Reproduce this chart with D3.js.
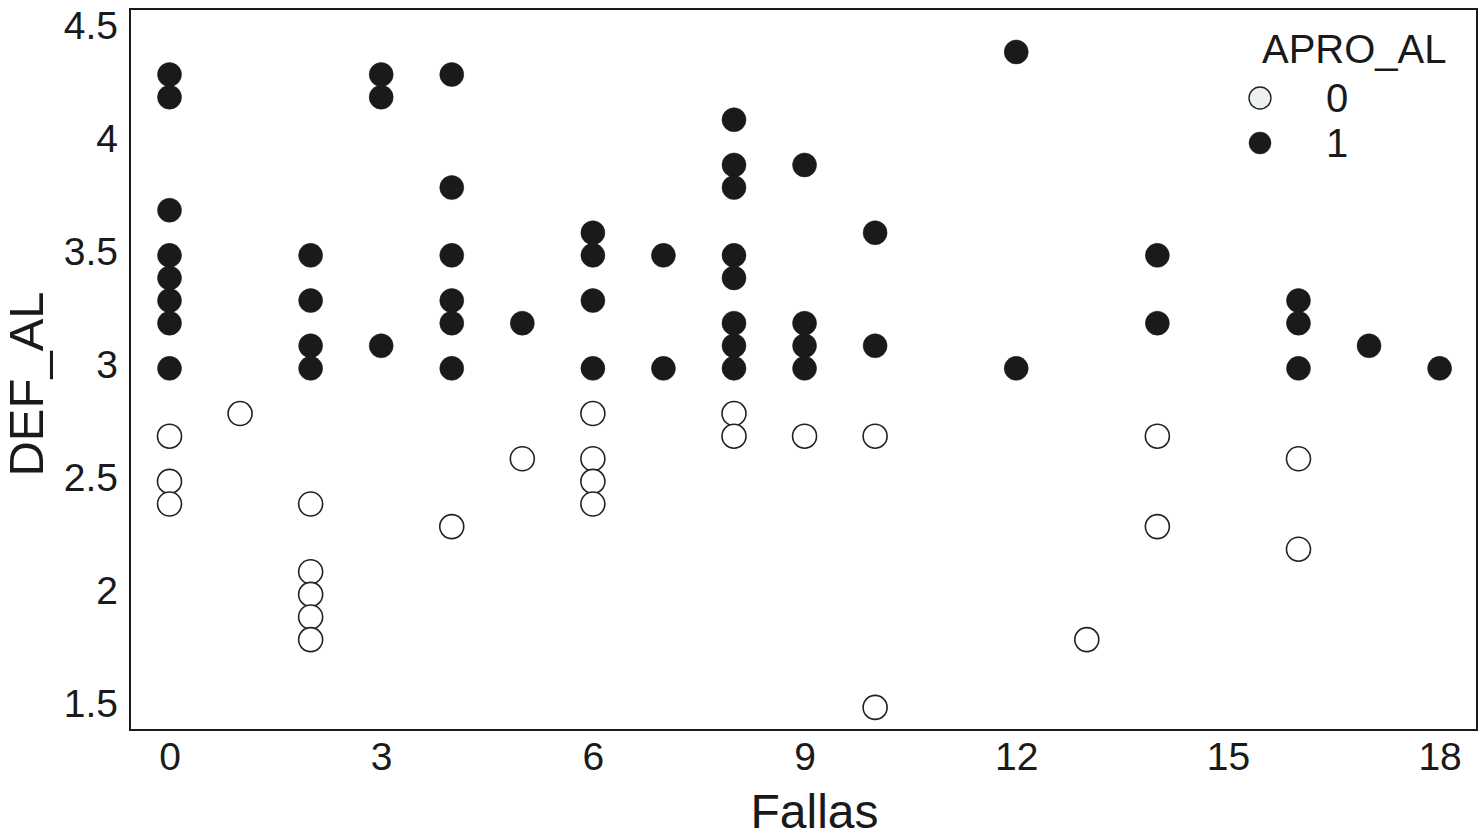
<!DOCTYPE html>
<html>
<head>
<meta charset="utf-8">
<title>DEF_AL vs Fallas</title>
<script src="https://d3js.org/d3.v7.min.js"></script>
<style>
    body { margin: 0; background: #fff; }
    svg text { font-family: "Liberation Sans", Arial, sans-serif; fill: #1a1a1a; }
</style>
</head>
<body>
<div id="chart"></div>
<script>
    // Data: one entry per student
    const fallas = [
        0, 0, 0, 0, 0, 0, 0, 0,  2, 2, 2, 2,  3, 3, 3,  4, 4, 4, 4, 4, 4,  5,  6, 6, 6, 6,  7, 7,
        8, 8, 8, 8, 8, 8, 8, 8,  9, 9, 9, 9,  10, 10,  12, 12,  14, 14,  16, 16, 16,  17,  18,
        0, 0, 0,  1,  2, 2, 2, 2, 2,  4,  5,  6, 6, 6, 6,  8, 8,  9,  10, 10,  13,  14, 14,  16, 16
    ];
    const defAl = [
        4.3, 4.2, 3.7, 3.5, 3.4, 3.3, 3.2, 3.0,  3.5, 3.3, 3.1, 3.0,  4.3, 4.2, 3.1,  4.3, 3.8, 3.5, 3.3, 3.2, 3.0,  3.2,
        3.6, 3.5, 3.3, 3.0,  3.5, 3.0,  4.1, 3.9, 3.8, 3.5, 3.4, 3.2, 3.1, 3.0,  3.9, 3.2, 3.1, 3.0,  3.6, 3.1,
        4.4, 3.0,  3.5, 3.2,  3.3, 3.2, 3.0,  3.1,  3.0,
        2.7, 2.5, 2.4,  2.8,  2.4, 2.1, 2.0, 1.9, 1.8,  2.3,  2.6,  2.8, 2.6, 2.5, 2.4,  2.8, 2.7,  2.7,  2.7, 1.5,
        1.8,  2.7, 2.3,  2.6, 2.2
    ];
    const aproAl = [
        1, 1, 1, 1, 1, 1, 1, 1,  1, 1, 1, 1,  1, 1, 1,  1, 1, 1, 1, 1, 1,  1,  1, 1, 1, 1,  1, 1,
        1, 1, 1, 1, 1, 1, 1, 1,  1, 1, 1, 1,  1, 1,  1, 1,  1, 1,  1, 1, 1,  1,  1,
        0, 0, 0,  0,  0, 0, 0, 0, 0,  0,  0,  0, 0, 0, 0,  0, 0,  0,  0, 0,  0,  0, 0,  0, 0
    ];
    const xTicks = [0, 3, 6, 9, 12, 15, 18];
    const yTicks = [1.5, 2, 2.5, 3, 3.5, 4, 4.5];
    const groups = ["0", "1"];

    const W = 1480, H = 839;
    const plot = { left: 130, right: 1477, top: 9, bottom: 730 };

    const svg = d3.select("#chart").append("svg")
        .attr("width", W)
        .attr("height", H);

    const x = d3.scaleLinear().domain([-0.56, 18.53]).range([plot.left, plot.right]);
    const y = d3.scaleLinear().domain([1.4, 4.59]).range([plot.bottom, plot.top]);

    const fillFor = g => g === 1 ? "#1a1a1a" : "#ffffff";

    // frame
    svg.append("rect")
        .attr("x", plot.left).attr("y", plot.top)
        .attr("width", plot.right - plot.left)
        .attr("height", plot.bottom - plot.top)
        .attr("fill", "none")
        .attr("stroke", "#1a1a1a")
        .attr("stroke-width", 2);

    // axes (labels only, no ticks)
    const xAxis = svg.append("g")
        .attr("transform", "translate(0," + plot.bottom + ")")
        .call(d3.axisBottom(x).tickValues(xTicks).tickSize(0).tickPadding(12));
    xAxis.select(".domain").remove();
    xAxis.selectAll("text").style("font-size", "39px");

    const yAxis = svg.append("g")
        .attr("transform", "translate(" + plot.left + ",0)")
        .call(d3.axisLeft(y).tickValues(yTicks).tickSize(0).tickPadding(12).tickFormat(d3.format("")));
    yAxis.select(".domain").remove();
    yAxis.selectAll("text").style("font-size", "39px").attr("dy", "0.24em");

    // points
    const idx = d3.range(fallas.length);
    svg.append("g").selectAll("circle")
        .data(idx)
        .join("circle")
        .attr("cx", i => x(fallas[i]))
        .attr("cy", i => y(defAl[i]))
        .attr("r", 12)
        .attr("fill", i => fillFor(aproAl[i]))
        .attr("stroke", i => aproAl[i] === 1 ? "#1a1a1a" : "#222")
        .attr("stroke-width", i => aproAl[i] === 1 ? 0.5 : 1.6);

    // axis titles
    svg.append("text")
        .attr("x", (plot.left + plot.right) / 2 + 11)
        .attr("y", 828)
        .attr("text-anchor", "middle")
        .style("font-size", "48px")
        .text("Fallas");

    svg.append("text")
        .attr("transform", "translate(43," + 384 + ") rotate(-90)")
        .attr("text-anchor", "middle")
        .style("font-size", "49px")
        .text("DEF_AL");

    // legend
    const legend = svg.append("g");
    legend.append("text")
        .attr("x", 1262).attr("y", 63)
        .style("font-size", "40px")
        .text("APRO_AL");
    groups.forEach((g, k) => {
        const cy = 98 + k * 45;
        legend.append("circle")
            .attr("cx", 1260).attr("cy", cy).attr("r", 11)
            .attr("fill", g === "1" ? "#1a1a1a" : "#eef1f1")
            .attr("stroke", "#222")
            .attr("stroke-width", g === "1" ? 0.5 : 1.4);
        legend.append("text")
            .attr("x", 1337).attr("y", cy)
            .attr("dy", "0.36em")
            .attr("text-anchor", "middle")
            .style("font-size", "40px")
            .text(g);
    });
</script>
</body>
</html>
